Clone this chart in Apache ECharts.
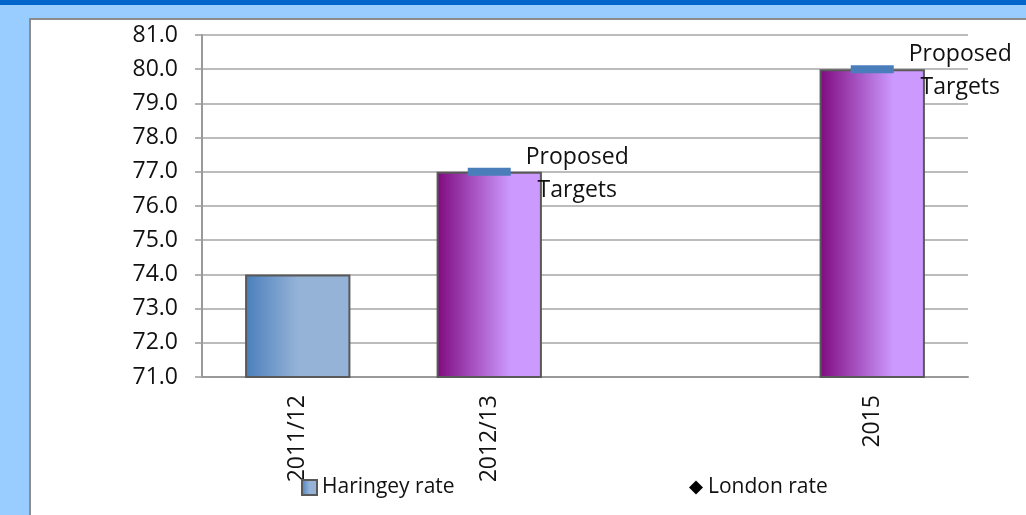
<!DOCTYPE html>
<html>
<head>
<meta charset="utf-8">
<title>Haringey rate and proposed targets</title>
<script src="https://cdn.jsdelivr.net/npm/echarts@6/dist/echarts.min.js"></script>
<style>
  html, body { margin: 0; padding: 0; background: #99ccff; }
  #chart { width: 1026px; height: 515px; }
</style>
</head>
<body>
<div id="chart"></div>
<script>
// Categories along the x axis (the third slot is intentionally blank)
const categories = ['2011/12', '2012/13', '', '2015'];
// Actual Haringey rate
const haringeyRate = [74.0, null, null, null];
// Proposed target values
const proposedTargets = [null, 77.0, null, 80.0];
// London rate (legend only, no points recorded)
const londonRate = [null, null, null, null];
// Value axis range
const yMin = 71, yMax = 81, yStep = 1;

const FONT = '"Open Sans", "Noto Sans", sans-serif';
const TEXT = '#111';
const GRID_GRAY = '#a6a6a6';

const blueFill = new echarts.graphic.LinearGradient(0, 0, 1, 0, [
  { offset: 0, color: '#4a7ebb' },
  { offset: 0.5, color: '#95b3d7' },
  { offset: 1, color: '#95b3d7' }
]);
const purpleFill = new echarts.graphic.LinearGradient(0, 0, 1, 0, [
  { offset: 0, color: '#7f0a7f' },
  { offset: 0.7, color: '#cc99ff' },
  { offset: 1, color: '#cc99ff' }
]);

const chart = echarts.init(document.getElementById('chart'), null, { renderer: 'canvas' });

chart.setOption({
  animation: false,
  backgroundColor: '#99ccff',
  textStyle: { fontFamily: FONT },
  graphic: [
    { type: 'rect', z: -10, silent: true,
      shape: { x: 0, y: 0, width: 1026, height: 5 },
      style: { fill: '#0066cc' } },
    { type: 'rect', z: -10, silent: true,
      shape: { x: 30, y: 19, width: 1010, height: 510 },
      style: { fill: '#ffffff', stroke: '#8c8c8c', lineWidth: 2 } }
  ],
  grid: { left: 202, right: 58, top: 35, bottom: 138 },
  legend: [
    {
      left: 296, top: 472,
      itemWidth: 15, itemHeight: 15, itemGap: 5,
      icon: 'rect',
      textStyle: { fontFamily: FONT, fontSize: 21, color: TEXT },
      data: ['Haringey rate']
    },
    {
      left: 684, top: 472,
      itemWidth: 14, itemHeight: 14,
      icon: 'diamond',
      textStyle: { fontFamily: FONT, fontSize: 21, color: TEXT },
      data: ['London rate']
    }
  ],
  xAxis: {
    type: 'category',
    data: categories,
    boundaryGap: true,
    axisLine: { lineStyle: { color: '#9a9a9a', width: 2 } },
    axisTick: { length: 7, lineStyle: { color: '#9a9a9a', width: 2 } },
    axisLabel: {
      rotate: 90, margin: 18, interval: 0,
      fontFamily: FONT, fontSize: 23, color: TEXT
    },
    splitLine: { show: false }
  },
  yAxis: {
    type: 'value',
    min: yMin, max: yMax, interval: yStep,
    axisLine: { show: true, lineStyle: { color: '#9a9a9a', width: 2 } },
    axisTick: { show: true, length: 7, lineStyle: { color: '#9a9a9a', width: 1.5 } },
    axisLabel: {
      margin: 24, fontFamily: FONT, fontSize: 23, color: TEXT,
      formatter: v => v.toFixed(1)
    },
    splitLine: { lineStyle: { color: GRID_GRAY, width: 1.5 } }
  },
  series: [
    {
      name: 'Haringey rate',
      type: 'bar',
      barWidth: '55%',
      barGap: '-100%',
      data: haringeyRate,
      itemStyle: { color: blueFill, borderColor: '#595959', borderWidth: 2 }
    },
    {
      name: 'Proposed targets',
      type: 'bar',
      barWidth: '55%',
      barGap: '-100%',
      data: proposedTargets,
      itemStyle: { color: purpleFill, borderColor: '#595959', borderWidth: 2 }
    },
    {
      name: 'Target marker',
      type: 'scatter',
      symbol: 'rect',
      symbolSize: [43, 8],
      data: proposedTargets,
      itemStyle: { color: '#4a7ebb', opacity: 1 },
      label: {
        show: true,
        position: 'inside',
        offset: [88, 2],
        formatter: 'Proposed\nTargets',
        fontFamily: FONT,
        fontSize: 23,
        lineHeight: 33,
        color: TEXT
      },
      z: 5
    },
    {
      name: 'London rate',
      type: 'line',
      data: londonRate,
      symbol: 'diamond',
      symbolSize: 13,
      itemStyle: { color: '#000' },
      lineStyle: { color: '#000' }
    }
  ]
});
</script>
</body>
</html>
